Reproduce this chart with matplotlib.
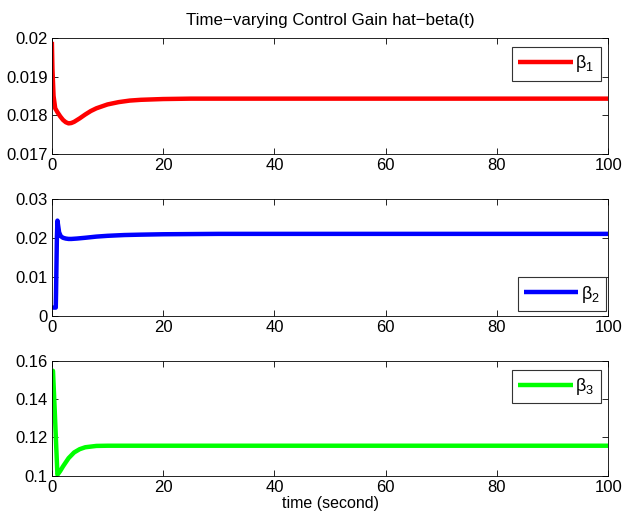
import matplotlib
matplotlib.use('Agg')
import matplotlib.pyplot as plt

plt.rcParams['font.family'] = ['Liberation Sans', 'DejaVu Sans']
plt.rcParams['mathtext.fontset'] = 'custom'
plt.rcParams['mathtext.rm'] = 'Liberation Sans'
plt.rcParams['mathtext.it'] = 'Liberation Sans'

# beta_1
t1 = [0, 0.1, 0.3, 0.6, 1.0, 1.5, 2.0, 2.5, 3.0, 3.5, 4.0, 5, 6, 7, 8, 10,
      12, 14, 16, 18, 20, 25, 30, 40, 100]
b1 = [0.0199, 0.0192, 0.0185, 0.01818, 0.01808, 0.01797, 0.01788, 0.01782,
      0.01779, 0.01780, 0.01783, 0.01792, 0.01802, 0.01811, 0.01818, 0.01828,
      0.01834, 0.01838, 0.01840, 0.01841, 0.01842, 0.01843, 0.01843, 0.01843,
      0.01843]

# beta_2
t2 = [0, 0.7, 0.75, 0.9, 1.0, 1.1, 1.3, 1.6, 2.0, 2.5, 3.0, 3.5, 4.5, 6, 8,
      10, 13, 16, 20, 30, 100]
b2 = [0.0022, 0.0022, 0.006, 0.020, 0.0245, 0.0235, 0.0215, 0.0205, 0.0201,
      0.0199, 0.0198, 0.0198, 0.0199, 0.0201, 0.0204, 0.0206, 0.0208, 0.0209,
      0.0210, 0.0211, 0.0211]

# beta_3
t3 = [0, 0.2, 0.5, 0.8, 1.0, 1.5, 2.0, 3.0, 4.0, 5.0, 6.0, 8.0, 10, 15, 20, 100]
b3 = [0.155, 0.1548, 0.135, 0.114, 0.1005, 0.1025, 0.1049, 0.1092, 0.1122,
      0.1139, 0.1149, 0.1156, 0.1157, 0.1157, 0.1157, 0.1157]

xticks = [0, 20, 40, 60, 80, 100]
yticks1 = [0.017, 0.018, 0.019, 0.020]
ylabels1 = ['0.017', '0.018', '0.019', '0.02']
yticks2 = [0, 0.01, 0.02, 0.03]
ylabels2 = ['0', '0.01', '0.02', '0.03']
yticks3 = [0.10, 0.12, 0.14, 0.16]
ylabels3 = ['0.1', '0.12', '0.14', '0.16']

fig = plt.figure(figsize=(6.25, 5.2), dpi=100)
ax1 = fig.add_axes([0.083, 0.704, 0.89, 0.223])
ax2 = fig.add_axes([0.083, 0.392, 0.89, 0.225])
ax3 = fig.add_axes([0.083, 0.085, 0.89, 0.221])

panels = [
    (ax1, t1, b1, (1, 0, 0), r'β$_1$', yticks1, ylabels1, (0.017, 0.020),
     (0.907, 0.776)),
    (ax2, t2, b2, (0, 0, 1), r'β$_2$', yticks2, ylabels2, (0, 0.03),
     (0.917, 0.188)),
    (ax3, t3, b3, (0, 1, 0), r'β$_3$', yticks3, ylabels3, (0.10, 0.16),
     (0.907, 0.778)),
]

for ax, t, b, col, lab, yt, yl, ylim, anchor in panels:
    ax.plot(t, b, color=col, lw=3.2, label=lab, solid_capstyle='butt')
    ax.set_xlim(0, 100)
    ax.set_ylim(*ylim)
    ax.set_xticks(xticks)
    ax.set_yticks(yt)
    ax.set_yticklabels(yl)
    ax.tick_params(direction='in', top=True, right=True, labelsize=12,
                   length=4, width=0.6, pad=3)
    for s in ax.spines.values():
        s.set_linewidth(0.6)
    leg = ax.legend(loc='center', bbox_to_anchor=anchor, fontsize=13,
                    handlelength=3.0, handletextpad=0.15, borderpad=0.35,
                    fancybox=False, framealpha=1, borderaxespad=0)
    leg.get_frame().set_edgecolor('#333333')
    leg.get_frame().set_linewidth(0.8)

ax1.set_title('Time\u2212varying Control Gain hat\u2212beta(t)', fontsize=12.2,
              pad=9)
ax3.set_xlabel('time (second)', fontsize=11.5, labelpad=1)

fig.savefig('out.png', dpi=100, facecolor='white')
